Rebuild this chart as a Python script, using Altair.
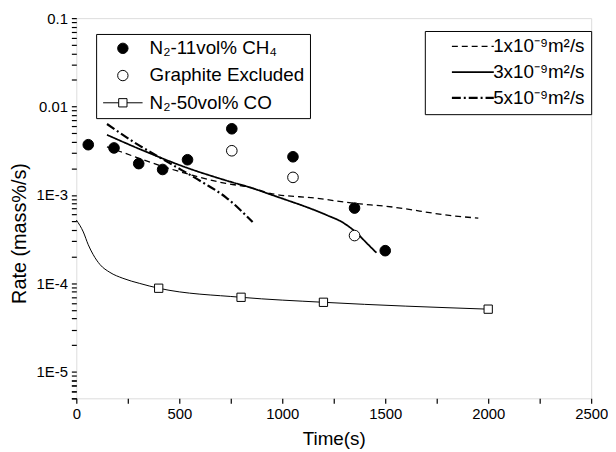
import altair as alt
import pandas as pd

FONT = "Liberation Sans"

# ---- observed data ----
ch4_label = "N₂-11vol% CH₄"
gr_label = "Graphite Excluded"
co_label = "N₂-50vol% CO"
obs_domain = [ch4_label, gr_label, co_label]

ch4_t = [58, 183, 303, 419, 540, 755, 1052, 1351, 1500]
ch4_r = [0.0037, 0.0034, 0.00226, 0.00194, 0.0025, 0.0056, 0.0027, 0.00071, 0.000234]

gr_t = [755, 1052, 1351]
gr_r = [0.00316, 0.00158, 0.000347]

co_line_t = [0, 34, 58, 82, 115, 163, 226, 308, 400, 800, 1200, 2000]
co_line_r = [5.2e-4, 3.81e-4, 2.73e-4, 2.11e-4, 1.63e-4, 1.33e-4, 1.14e-4, 9.97e-5, 8.8e-5, 6.95e-5, 6.1e-5, 5.1e-5]
co_mark_t = [400, 800, 1200, 2000]
co_mark_r = [8.8e-5, 6.95e-5, 6.1e-5, 5.1e-5]

# ---- model curves ----
m_labels = ["1x10⁻⁹m²/s", "3x10⁻⁹m²/s", "5x10⁻⁹m²/s"]
d1_t = [149, 216, 409, 567, 726, 841, 942, 1168, 1346, 1505, 1841, 1952]
d1_r = [3.5e-3, 3.08e-3, 2.14e-3, 1.66e-3, 1.35e-3, 1.22e-3, 1.04e-3, 9.16e-4, 8.05e-4, 7.44e-4, 5.76e-4, 5.47e-4]
d3_t = [149, 327, 534, 726, 856, 928, 1024, 1120, 1216, 1298, 1361, 1409, 1457]
d3_r = [4.78e-3, 3.16e-3, 2.04e-3, 1.46e-3, 1.19e-3, 1.04e-3, 8.71e-4, 7.26e-4, 5.91e-4, 4.81e-4, 3.72e-4, 2.87e-4, 2.22e-4]
d5_t = [149, 293, 457, 615, 726, 856]
d5_r = [6.34e-3, 3.78e-3, 2.26e-3, 1.38e-3, 9.4e-4, 4.93e-4]

# ---- axis ticks ----
x_ticks = [0, 250, 500, 750, 1000, 1250, 1500, 1750, 2000, 2250, 2500]
y_major = [1e-5, 1e-4, 1e-3, 1e-2, 1e-1]
y_minor_mult = [2, 3, 4, 5, 6, 7, 8, 9]
y_ticks = sorted(y_major + [m * v / 10 for v in y_major for m in y_minor_mult]
                 + [m * 1e-6 for m in [5, 6, 7, 8, 9]])

W, H = 520, 384

obs = pd.DataFrame({
    "t": ch4_t + gr_t,
    "r": ch4_r + gr_r,
    "series": [ch4_label] * len(ch4_t) + [gr_label] * len(gr_t),
})
co_line_df = pd.DataFrame({"t": co_line_t, "r": co_line_r})
co_mark_df = pd.DataFrame({"t": co_mark_t, "r": co_mark_r})
models = pd.DataFrame({
    "t": d1_t + d3_t + d5_t,
    "r": d1_r + d3_r + d5_r,
    "model": [m_labels[0]] * len(d1_t) + [m_labels[1]] * len(d3_t) + [m_labels[2]] * len(d5_t),
})

xscale = alt.Scale(domain=[0, 2500], nice=False, zero=False)
yscale = alt.Scale(type="log", domain=[5e-6, 0.1], nice=False)

is_major_y = "abs(log(datum.value)/LN10 - round(log(datum.value)/LN10)) < 0.001"

base_axis = dict(domain=False, grid=False, ticks=True, tickSize=5, tickColor="black",
                 tickWidth=1.2, labelFont=FONT, labelColor="black",
                 titleFont=FONT, titleColor="black", titleFontWeight="normal",
                 labelOverlap=False, labelFlush=False)

x_axis = alt.Axis(values=x_ticks, orient="bottom",
                  labelExpr="datum.value % 500 === 0 ? '' + datum.value : ''",
                  labelPadding=3, labelFontSize=15, title="Time(s)", titleFontSize=19,
                  titleY=41, titleBaseline="middle", **base_axis)
y_axis = alt.Axis(values=y_ticks, orient="left",
                  labelExpr=f"({is_major_y}) ? (datum.value > 0.05 ? '0.1' : (datum.value > 0.005 ? '0.01' : '1E' + round(log(datum.value)/LN10))) : ''",
                  labelPadding=4, labelFontSize=15, title="Rate (mass%/s)", titleFontSize=20,
                  titleX=-57, titleY=217, titleAngle=270, titleAlign="center",
                  titleBaseline="middle", **base_axis)

co_path = "M-3.8,0L-0.8,0M0.8,0L3.8,0M-0.8,-0.8L0.8,-0.8L0.8,0.8L-0.8,0.8Z"

leg1 = alt.Legend(orient="none", legendX=20, legendY=16, title=None, direction="vertical",
                  padding=5, strokeColor="black", fillColor="white",
                  labelFont=FONT, labelFontSize=19, labelColor="black", labelLimit=400,
                  symbolSize=110, symbolOffset=12.5, labelOffset=17.5, rowPadding=7.5,
                  symbolStrokeColor="black", symbolStrokeWidth=1)
leg2 = alt.Legend(orient="none", legendX=352, legendY=13, title=None, direction="vertical",
                  padding=6, strokeColor="black", fillColor="white",
                  labelFont=FONT, labelFontSize=19, labelColor="black", labelLimit=400,
                  symbolType="M-4,0L4,0", symbolSize=112, symbolOffset=33, labelOffset=11,
                  rowPadding=6, symbolStrokeColor="black")

X = alt.X("t:Q", scale=xscale, axis=x_axis)
Y = alt.Y("r:Q", scale=yscale, axis=y_axis)

model_layer = alt.Chart(models).mark_line(color="black", interpolate="monotone").encode(
    x=X, y=Y,
    strokeDash=alt.StrokeDash("model:N", scale=alt.Scale(domain=m_labels, range=[[6, 4], [1, 0], [9, 3, 2, 3]]), legend=leg2),
    strokeWidth=alt.StrokeWidth("model:N", scale=alt.Scale(domain=m_labels, range=[1.3, 2.2, 1.3]), legend=leg2),
)
co_line = alt.Chart(co_line_df).mark_line(color="black", strokeWidth=1, interpolate="monotone").encode(x=X, y=Y)
co_marks = alt.Chart(co_mark_df).mark_point(shape="square", filled=True, fill="white", stroke="black",
                                            strokeWidth=1, size=70, opacity=1).encode(x=X, y=Y)
obs_layer = alt.Chart(obs).mark_point(filled=True, strokeWidth=1, size=115, opacity=1).encode(
    x=X, y=Y,
    shape=alt.Shape("series:N", scale=alt.Scale(domain=obs_domain, range=["circle", "circle", co_path]), legend=leg1),
    fill=alt.Fill("series:N", scale=alt.Scale(domain=obs_domain, range=["black", "white", "white"]), legend=leg1),
    stroke=alt.Stroke("series:N", scale=alt.Scale(domain=obs_domain, range=["black", "black", "black"]), legend=leg1),
)

chart = alt.layer(model_layer, co_line, co_marks, obs_layer).properties(
    width=W, height=H,
    padding={"left": 69, "top": 8, "right": 17, "bottom": 54},
    autosize=alt.AutoSizeParams(type="none"),
).configure_view(stroke="black", strokeWidth=1.8).configure(font=FONT, background="white")

chart.save("out.html", embed_options={"renderer": "svg", "actions": False})
